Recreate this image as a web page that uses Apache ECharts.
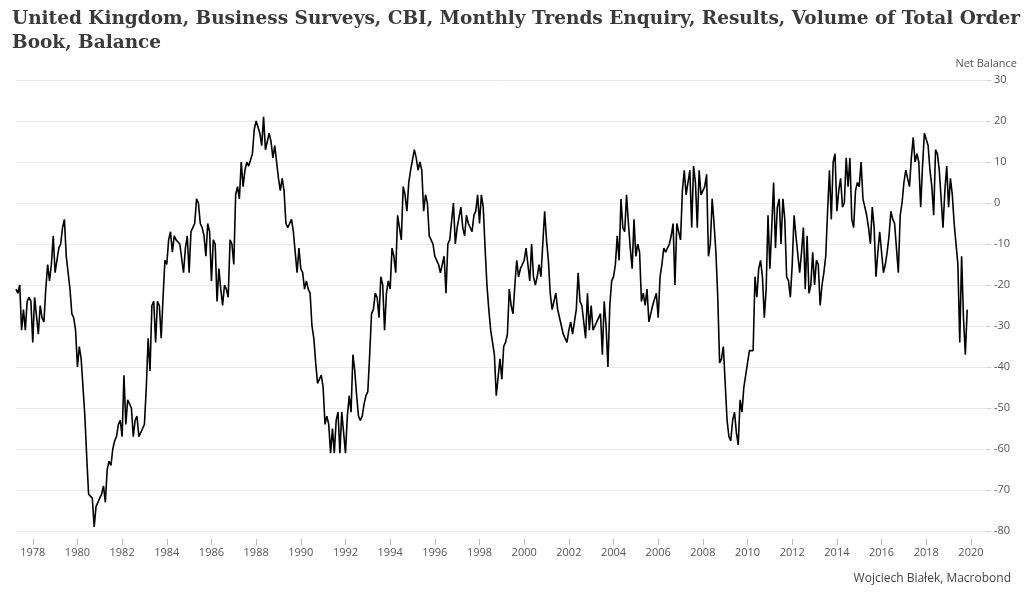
<!DOCTYPE html>
<html>
<head>
<meta charset="utf-8">
<script src="https://cdn.jsdelivr.net/npm/echarts@6/dist/echarts.min.js"></script>
<style>
html,body{margin:0;padding:0;background:#fff;}
#chart{width:1024px;height:594px;}
</style>
</head>
<body>
<div id="chart"></div>
<script>
// Monthly series: first value is April 1977, last is November 2019
const startYear = 1977;
const startMonth = 4;
const orderBook = [
  -21, -22, -20, -31, -26, -31, -24, -23, -24,                 // 1977 Apr-Dec
  -34, -23, -23, -32, -25, -28, -29, -21, -15, -19, -15, -8,   // 1978
  -17, -17, -11, -10, -6, -4, -13, -17, -21, -27, -28, -31,    // 1979
  -40, -35, -38, -45, -52, -62, -71, -71, -72, -79, -74, -73,  // 1980
  -72, -71, -69, -73, -65, -63, -64, -60, -58, -57, -54, -53,  // 1981
  -57, -42, -54, -48, -48, -50, -57, -53, -52, -57, -56, -55,  // 1982
  -54, -45, -33, -41, -25, -24, -34, -24, -25, -33, -23, -14,  // 1983
  -15, -9, -7, -12, -8, -9, -9, -10, -10, -17, -11, -8,        // 1984
  -17, -7, -6, -5, 1, 0, -5, -6, -8, -13, -5, -7,              // 1985
  -19, -9, -10, -24, -16, -21, -25, -20, -21, -23, -9, -10,    // 1986
  -15, 2, 4, 1, 10, 4, 8, 10, 9, 9, 12, 18,                    // 1987
  20, 20, 17, 14, 21, 13, 15, 17, 15, 11, 14, 14,              // 1988
  6, 3, 6, 3, -5, -6, -5, -4, -7, -12, -17, -11,               // 1989
  -16, -17, -21, -19, -21, -22, -30, -33, -39, -44, -44, -42,  // 1990
  -45, -54, -52, -54, -61, -55, -61, -53, -51, -61, -51, -51,  // 1991
  -61, -52, -47, -51, -37, -41, -47, -52, -53, -52, -49, -47,  // 1992
  -46, -37, -27, -26, -22, -23, -28, -18, -20, -31, -22, -19,  // 1993
  -21, -11, -13, -17, -3, -3, -9, 4, 2, -2, 5, 8,              // 1994
  8, 13, 11, 8, 10, 8, -2, 2, 0, -8, -9, -10,                  // 1995
  -13, -14, -15, -17, -17, -13, -22, -10, -9, -9, 0, -10,      // 1996
  -6, -6, -1, -6, -8, -3, -5, -5, -7, -3, -2, 2,               // 1997
  -5, 2, -1, -11, -20, -26, -31, -31, -37, -47, -47, -38,      // 1998
  -43, -35, -34, -32, -21, -25, -27, -20, -14, -18, -16, -15,  // 1999
  -14, -11, -15, -19, -10, -18, -20, -18, -15, -18, -18, -2,   // 2000
  -9, -14, -22, -26, -24, -22, -26, -28, -30, -32, -33, -34,   // 2001
  -31, -29, -32, -29, -26, -17, -24, -25, -29, -33, -22, -31,  // 2002
  -25, -31, -30, -29, -29, -27, -37, -24, -30, -40, -25, -19,  // 2003
  -18, -15, -8, -14, 1, -6, -7, 2, -5, -11, -16, -4,           // 2004
  -13, -10, -12, -24, -22, -25, -21, -29, -27, -25, -25, -22,  // 2005
  -28, -18, -15, -11, -12, -12, -10, -8, -5, -20, -5, -5,      // 2006
  -9, 3, 8, 2, 5, 8, -6, 9, 5, -6, 8, 2,                       // 2007
  2, 4, 7, -13, -10, 1, -5, -12, -23, -39, -38, -35,           // 2008
  -44, -53, -57, -58, -53, -51, -56, -59, -48, -51, -45, -42,  // 2009
  -39, -36, -36, -36, -18, -23, -16, -14, -18, -28, -21, -3,   // 2010
  -16, -6, 5, -11, -1, 1, -10, 1, -4, -18, -19, -23,           // 2011
  -15, -3, -8, -8, -17, -12, -6, -21, -8, -22, -20, -12,       // 2012
  -20, -14, -15, -25, -20, -17, -13, -2, 8, -4, 10, 12,        // 2013
  -2, 3, 6, -1, 0, 11, 4, 11, -4, -6, 3, 5,                    // 2014
  4, 10, 1, 1, -3, -6, -10, -1, -6, -18, -12, -7,              // 2015
  -12, -17, -15, -12, -8, -2, -4, -5, -5, -17, -3, 0,          // 2016
  5, 8, 8, 4, 11, 16, 10, 12, 10, -1, 9, 17,                   // 2017
  17, 14, 8, 4, -3, 13, 12, 8, 1, -6, 3, 9,                    // 2018
  -1, 6, 2, -5, -10, -15, -34, -13, -28, -37, -26              // 2019 Jan-Nov
];
const yearTicks = [1978,1980,1982,1984,1986,1988,1990,1992,1994,1996,1998,2000,
                   2002,2004,2006,2008,2010,2012,2014,2016,2018,2020];

const titleText = 'United Kingdom, Business Surveys, CBI, Monthly Trends Enquiry, Results, Volume of Total Order\nBook, Balance';
const unitText = 'Net Balance';
const sourceText = 'Wojciech Białek, Macrobond';

const seriesData = orderBook.map(function (v, i) {
  const m = startMonth - 1 + i;
  return [startYear + Math.floor(m / 12) + (m % 12) / 12, v];
});

const chart = echarts.init(document.getElementById('chart'), null, {renderer: 'canvas'});
chart.setOption({
  animation: false,
  backgroundColor: '#ffffff',
  title: [
    {text: titleText, left: 7, top: 2,
     textStyle: {fontFamily: 'DejaVu Serif', fontWeight: 'bold', fontSize: 18.5, color: '#3a3a3a', lineHeight: 24}},
    {text: unitText, right: 2, top: 53,
     textStyle: {fontFamily: 'Open Sans', fontWeight: 'normal', fontSize: 11, color: '#555'}},
    {text: sourceText, right: 8, top: 568,
     textStyle: {fontFamily: 'Open Sans', fontWeight: 'normal', fontSize: 12, color: '#444'}}
  ],
  grid: {left: 16, right: 37, top: 80, bottom: 63, containLabel: false},
  xAxis: {
    type: 'value',
    min: 1977.25,
    max: 2020.72,
    offset: 8,
    axisLine: {show: false, onZero: false},
    splitLine: {show: false},
    axisTick: {show: true, customValues: yearTicks, length: 6, lineStyle: {color: '#bbb'}},
    axisLabel: {customValues: yearTicks, color: '#555', fontFamily: 'Open Sans', fontSize: 11, margin: 8,
                formatter: function (v) { return String(Math.round(v)); }}
  },
  yAxis: {
    type: 'value',
    position: 'right',
    min: -80,
    max: 30,
    interval: 10,
    axisLine: {show: false},
    axisTick: {show: true, length: 4, lineStyle: {color: '#ccc'}},
    splitLine: {show: true, lineStyle: {color: '#e8e8e8', width: 1}},
    axisLabel: {color: '#555', fontFamily: 'Open Sans', fontSize: 11, margin: 7}
  },
  series: [{
    type: 'line',
    data: seriesData,
    showSymbol: false,
    symbol: 'none',
    lineStyle: {color: '#000', width: 1.6},
    emphasis: {disabled: true}
  }]
});
</script>
</body>
</html>
